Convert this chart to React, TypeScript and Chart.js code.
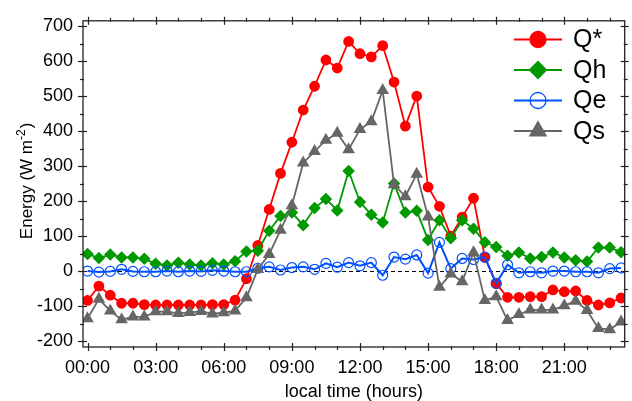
import React, { useEffect, useRef } from "react";
import { Chart, registerables } from "chart.js";
import { drawPoint } from "chart.js/helpers";

Chart.register(...registerables);

// local time in hours (half-hourly)
const times = [
  0, 0.5, 1, 1.5, 2, 2.5, 3, 3.5, 4, 4.5, 5, 5.5, 6, 6.5, 7, 7.5,
  8, 8.5, 9, 9.5, 10, 10.5, 11, 11.5, 12, 12.5, 13, 13.5, 14, 14.5, 15, 15.5,
  16, 16.5, 17, 17.5, 18, 18.5, 19, 19.5, 20, 20.5, 21, 21.5, 22, 22.5, 23, 23.5,
];

const qStar = [
  -84, -43, -69, -92, -92, -96, -97, -97, -97, -97, -97, -96, -96, -83, -22, 73,
  176, 279, 368, 460, 528, 603, 580, 656, 621, 612, 644, 540, 414, 500, 240, 185,
  100, 154, 208, 39, -36, -75, -75, -73, -73, -54, -59, -57, -84, -97, -91, -77,
];
const qh = [
  49, 37, 47, 39, 39, 35, 21, 16, 24, 19, 16, 22, 19, 28, 56, 58,
  115, 157, 167, 131, 180, 206, 173, 286, 197, 161, 139, 250, 167, 172, 89, 145,
  94, 145, 121, 82, 69, 44, 53, 36, 40, 53, 39, 31, 27, 67, 67, 54,
];
const qe = [
  0, -3, -1, 5, -1, -2, -2, 0, -2, 0, -1, 2, 0, -2, -2, 8,
  12, 3, 10, 12, 5, 22, 11, 24, 15, 24, -12, 40, 34, 46, -6, 82,
  7, 36, 33, 40, -35, 18, -5, -2, -5, 0, 0, -2, -2, -5, 7, 9,
];
const qs = [
  -136, -80, -114, -139, -131, -131, -116, -116, -121, -118, -115, -122, -119, -114, -76, 5,
  48, 117, 187, 309, 342, 374, 394, 347, 405, 427, 516, 247, 213, 277, 155, -46,
  -8, -30, 53, -84, -73, -141, -124, -111, -111, -111, -99, -86, -112, -164, -167, -145,
];

const seriesNames = ["Q*", "Qh", "Qe", "Qs"];

const xMajorTicks = [0, 3, 6, 9, 12, 15, 18, 21];
const xMinorTicks = [
  1, 2, 4, 5, 7, 8, 10, 11, 13, 14, 16, 17, 19, 20, 22, 23,
];
const yMajorTicks = [-200, -100, 0, 100, 200, 300, 400, 500, 600, 700];
const yMinorTicks = [-150, -50, 50, 150, 250, 350, 450, 550, 650];

const FONT = "'Liberation Sans', Arial, Helvetica, sans-serif";

const framePlugin = {
  id: "frameTicks",
  beforeDatasetsDraw(chart: any) {
    const { ctx, chartArea: a, scales } = chart;
    const py = Math.round(scales.y.getPixelForValue(0)) + 0.5;
    ctx.save();
    ctx.strokeStyle = "#000";
    ctx.lineWidth = 1;
    ctx.setLineDash([4, 3]);
    ctx.beginPath();
    ctx.moveTo(a.left, py);
    ctx.lineTo(a.right, py);
    ctx.stroke();
    ctx.restore();
  },
  afterDraw(chart: any) {
    const { ctx, chartArea: a, scales } = chart;
    const xs = scales.x;
    const ys = scales.y;
    ctx.save();
    ctx.strokeStyle = "#222";
    ctx.lineWidth = 1.3;
    ctx.strokeRect(a.left, a.top, a.right - a.left, a.bottom - a.top);
    ctx.lineWidth = 1.2;
    const seg = (x1: number, y1: number, x2: number, y2: number) => {
      ctx.beginPath();
      ctx.moveTo(x1, y1);
      ctx.lineTo(x2, y2);
      ctx.stroke();
    };
    xMajorTicks.forEach((v) => {
      const px = Math.round(xs.getPixelForValue(v)) + 0.5;
      seg(px, a.bottom - 4, px, a.bottom + 4);
      seg(px, a.top - 4, px, a.top + 4);
    });
    xMinorTicks.forEach((v) => {
      const px = Math.round(xs.getPixelForValue(v)) + 0.5;
      seg(px, a.bottom - 1, px, a.bottom + 3);
      seg(px, a.top - 3, px, a.top + 1);
    });
    yMajorTicks.forEach((v) => {
      const py = Math.round(ys.getPixelForValue(v)) + 0.5;
      seg(a.left - 5, py, a.left + 4, py);
      seg(a.right - 4, py, a.right + 4, py);
    });
    yMinorTicks.forEach((v) => {
      const py = Math.round(ys.getPixelForValue(v)) + 0.5;
      seg(a.left - 3, py, a.left + 1, py);
      seg(a.right - 1, py, a.right + 3, py);
    });

    // y title with superscript
    const cy = (a.top + a.bottom) / 2 - 3;
    ctx.translate(32, cy);
    ctx.rotate(-Math.PI / 2);
    ctx.fillStyle = "#000";
    ctx.textBaseline = "alphabetic";
    ctx.textAlign = "left";
    const main = "Energy (W m";
    const sup = "-2";
    const end = ")";
    ctx.font = `17px ${FONT}`;
    const w1 = ctx.measureText(main).width;
    const w3 = ctx.measureText(end).width;
    ctx.font = `12px ${FONT}`;
    const w2 = ctx.measureText(sup).width;
    const total = w1 + w2 + w3 + 1;
    let x0 = -total / 2;
    ctx.font = `17px ${FONT}`;
    ctx.fillText(main, x0, 0);
    x0 += w1;
    ctx.font = `12px ${FONT}`;
    ctx.fillText(sup, x0, -7);
    x0 += w2 + 1;
    ctx.font = `17px ${FONT}`;
    ctx.fillText(end, x0, 0);
    ctx.restore();

    // legend
    ctx.save();
    const rows = [39.5, 70, 100.5, 131];
    chart.data.datasets.forEach((ds: any, i: number) => {
      const ry = rows[i];
      ctx.strokeStyle = ds.borderColor;
      ctx.lineWidth = 2;
      ctx.beginPath();
      ctx.moveTo(514, ry);
      ctx.lineTo(562, ry);
      ctx.stroke();
      ctx.fillStyle = ds.pointBackgroundColor;
      ctx.strokeStyle = ds.borderColor;
      ctx.lineWidth = 1.3;
      drawPoint(
        ctx,
        { pointStyle: ds.pointStyle, radius: ds.legendRadius, rotation: 0, borderWidth: 1.3 },
        538,
        ry
      );
      ctx.fillStyle = "#000";
      ctx.font = `25px ${FONT}`;
      ctx.textBaseline = "middle";
      ctx.textAlign = "left";
      ctx.fillText(seriesNames[i], 573, ry + 1);
    });
    ctx.restore();
  },
};

export default function App() {
  const ref = useRef<HTMLCanvasElement | null>(null);

  useEffect(() => {
    document.body.style.margin = "0";
    const canvas = ref.current!;
    const mk = (vals: number[]) => times.map((t, i) => ({ x: t, y: vals[i] }));
    const chart = new Chart(canvas, {
      type: "line",
      data: {
        datasets: [
          {
            label: seriesNames[0],
            data: mk(qStar),
            borderColor: "#ff0000",
            backgroundColor: "#ff0000",
            pointBackgroundColor: "#ff0000",
            pointBorderColor: "#ff0000",
            pointStyle: "circle",
            pointRadius: 4.5,
            borderWidth: 1.8,
            order: 3,
            legendRadius: 8,
          } as any,
          {
            label: seriesNames[1],
            data: mk(qh),
            borderColor: "#009900",
            backgroundColor: "#009900",
            pointBackgroundColor: "#009900",
            pointBorderColor: "#009900",
            pointStyle: "rectRot",
            pointRadius: 5,
            borderWidth: 1.8,
            order: 2,
            legendRadius: 8.5,
          } as any,
          {
            label: seriesNames[2],
            data: mk(qe),
            borderColor: "#0050ff",
            backgroundColor: "rgba(0,0,0,0)",
            pointBackgroundColor: "rgba(0,0,0,0)",
            pointBorderColor: "#0050ff",
            pointStyle: "circle",
            pointRadius: 5,
            pointBorderWidth: 1.2,
            borderWidth: 2,
            order: 1,
            legendRadius: 8,
          } as any,
          {
            label: seriesNames[3],
            data: mk(qs),
            borderColor: "#666666",
            backgroundColor: "#666666",
            pointBackgroundColor: "#666666",
            pointBorderColor: "#666666",
            pointStyle: "triangle",
            pointRadius: 5.5,
            borderWidth: 1.8,
            order: 0,
            legendRadius: 9.5,
          } as any,
        ],
      },
      options: {
        animation: false,
        responsive: false,
        devicePixelRatio: 1,
        layout: { padding: { top: 16, right: 5, left: 0, bottom: 0 } },
        plugins: { legend: { display: false }, tooltip: { enabled: false } },
        elements: { line: { tension: 0 } },
        scales: {
          x: {
            type: "linear",
            min: -0.2,
            max: 23.66,
            grid: { display: false, drawTicks: false },
            border: { display: false },
            afterBuildTicks: (s: any) => {
              s.ticks = xMajorTicks.map((v) => ({ value: v }));
            },
            afterFit: (s: any) => {
              s.height = 54;
            },
            ticks: {
              autoSkip: false,
              maxRotation: 0,
              padding: 10,
              color: "#000",
              font: { family: FONT, size: 18 },
              callback: (v: any) => `${String(v).padStart(2, "0")}:00`,
            },
            title: {
              display: true,
              text: "local time (hours)",
              color: "#000",
              padding: 0,
              font: { family: FONT, size: 18, lineHeight: 1 },
            },
          },
          y: {
            type: "linear",
            min: -217,
            max: 715,
            grid: { display: false, drawTicks: false },
            border: { display: false },
            afterBuildTicks: (s: any) => {
              s.ticks = yMajorTicks.map((v) => ({ value: v }));
            },
            afterFit: (s: any) => {
              s.width = 83;
            },
            ticks: {
              padding: 10,
              color: "#000",
              font: { family: FONT, size: 18 },
            },
          },
        },
      },
      plugins: [framePlugin],
    });
    return () => chart.destroy();
  }, []);

  return (
    <div style={{ width: 632, height: 401, background: "#fff" }}>
      <canvas ref={ref} width={632} height={401} />
    </div>
  );
}
